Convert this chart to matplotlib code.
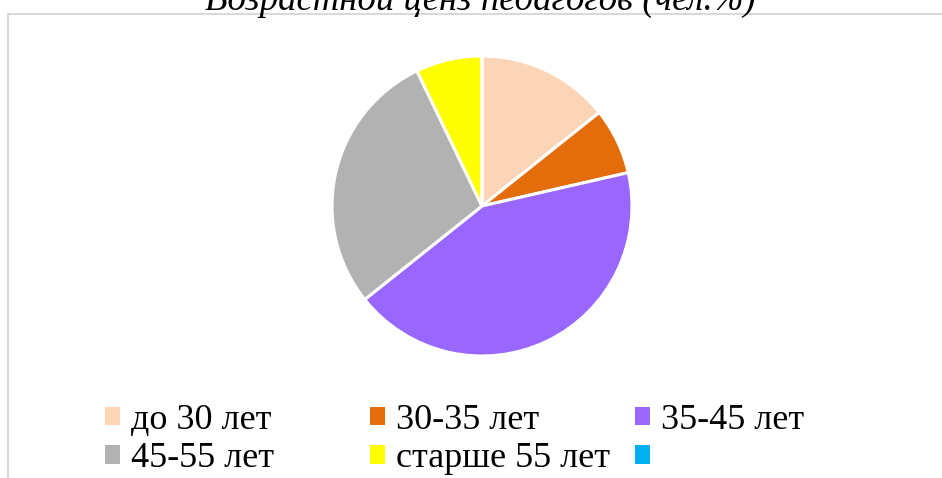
import matplotlib
matplotlib.use("Agg")
import matplotlib.pyplot as plt
from matplotlib.patches import Rectangle

# Data (number of teachers per age group)
labels = ["до 30 лет", "30-35 лет", "35-45 лет", "45-55 лет", "старше 55 лет", ""]
values = [2, 1, 6, 4, 1, 0]
colors = ["#FBD5B5", "#E46C0A", "#9966FF", "#B2B2B2", "#FFFF00", "#00B0F0"]
title = "Возрастной ценз педагогов (чел.%)"

W, H = 942, 478
SERIF = ["Liberation Serif", "DejaVu Serif"]

fig = plt.figure(figsize=(W / 100, H / 100), dpi=100)
fig.patch.set_facecolor("white")

# light chart-area border (only top and left fall inside the picture)
fig.add_artist(Rectangle((7.5 / W, -0.2), 1.2, 1.2 - 13.5 / H,
                         transform=fig.transFigure, facecolor="none",
                         edgecolor="#D9D9D9", linewidth=1.5))

# pie centred at (482, 206) px with radius 150 px
cx, cy, r = 482, 206, 150
ax = fig.add_axes([(cx - r) / W, (H - cy - r) / H, 2 * r / W, 2 * r / H])
wedges, _ = ax.pie(values, colors=colors, startangle=90, counterclock=False,
                   wedgeprops=dict(edgecolor="white", linewidth=2.2))
ax.set_xlim(-1, 1)
ax.set_ylim(-1, 1)
ax.set_aspect("equal")

fig.text(480 / W, 1 - 10 / H, title, ha="center", va="baseline",
         family=SERIF, style="italic", fontsize=26.5)

# legend: three fixed-width columns, two rows
col_x = [105, 370, 635]
for c, x in enumerate(col_x):
    idx = [c, c + 3]
    leg = fig.legend([wedges[i] for i in idx], [labels[i] for i in idx],
                     loc="upper left", bbox_to_anchor=(x / W, 1 - 404 / H),
                     frameon=False, borderpad=0, borderaxespad=0,
                     handlelength=0.42, handleheight=0.42, handletextpad=0.3,
                     labelspacing=0.15,
                     prop=dict(family=SERIF, size=26))
    for h in leg.legend_handles:
        h.set_edgecolor("none")

fig.savefig("out.png", dpi=100)
